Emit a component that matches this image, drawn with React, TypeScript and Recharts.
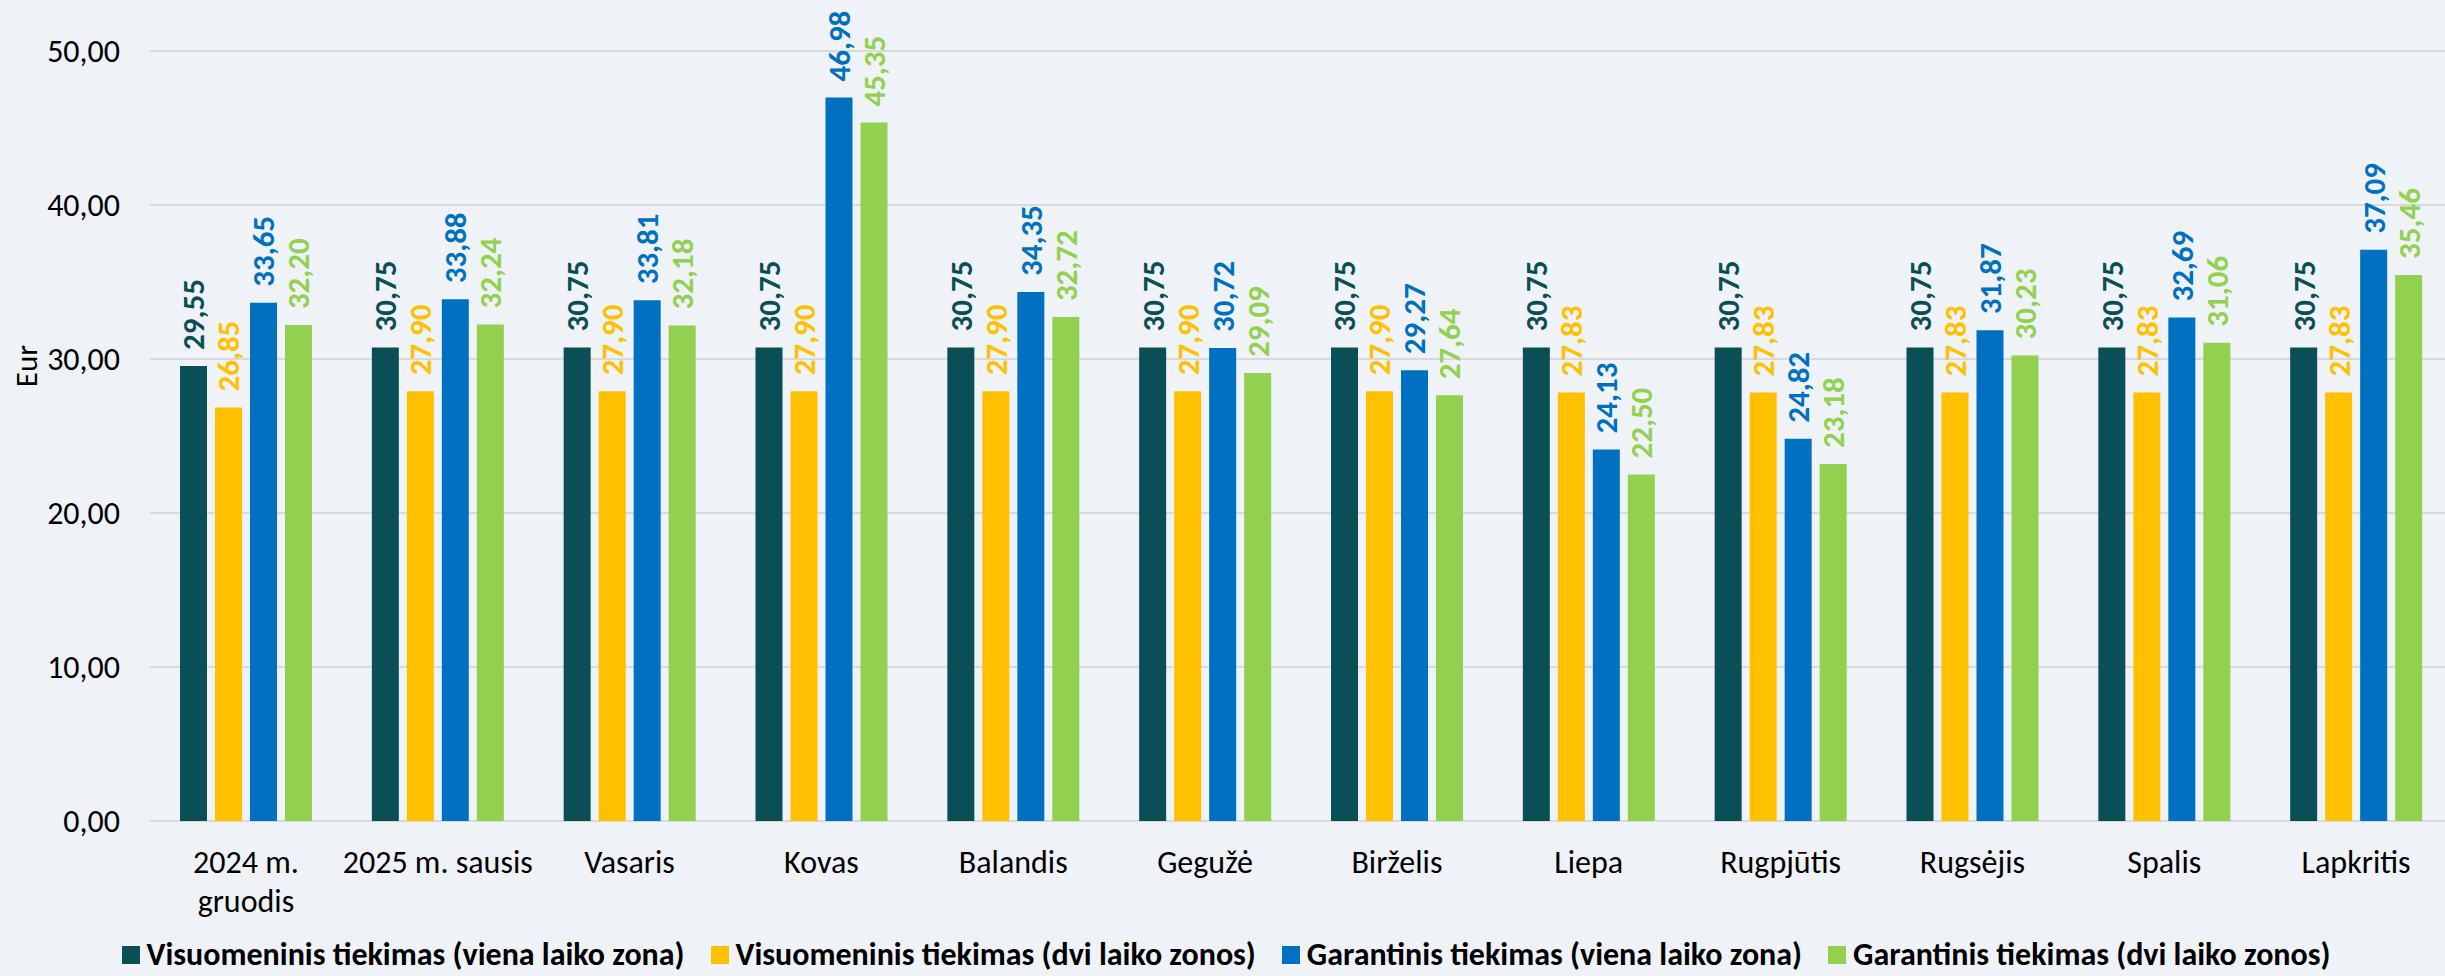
import { BarChart, Bar, XAxis, YAxis, CartesianGrid, Legend, LabelList } from "recharts";

const categories = [
  "2024 m. gruodis",
  "2025 m. sausis",
  "Vasaris",
  "Kovas",
  "Balandis",
  "Gegužė",
  "Birželis",
  "Liepa",
  "Rugpjūtis",
  "Rugsėjis",
  "Spalis",
  "Lapkritis",
];

const visuomeninisViena = [29.55, 30.75, 30.75, 30.75, 30.75, 30.75, 30.75, 30.75, 30.75, 30.75, 30.75, 30.75];
const visuomeninisDvi = [26.85, 27.9, 27.9, 27.9, 27.9, 27.9, 27.9, 27.83, 27.83, 27.83, 27.83, 27.83];
const garantinisViena = [33.65, 33.88, 33.81, 46.98, 34.35, 30.72, 29.27, 24.13, 24.82, 31.87, 32.69, 37.09];
const garantinisDvi = [32.2, 32.24, 32.18, 45.35, 32.72, 29.09, 27.64, 22.5, 23.18, 30.23, 31.06, 35.46];

const yTicks = [0, 10, 20, 30, 40, 50];

const series = [
  { key: "vv", name: "Visuomeninis tiekimas (viena laiko zona)", color: "#0a4f56", values: visuomeninisViena },
  { key: "vd", name: "Visuomeninis tiekimas (dvi laiko zonos)", color: "#ffc000", values: visuomeninisDvi },
  { key: "gv", name: "Garantinis tiekimas (viena laiko zona)", color: "#0070c0", values: garantinisViena },
  { key: "gd", name: "Garantinis tiekimas (dvi laiko zonos)", color: "#92d050", values: garantinisDvi },
];

const data = categories.map((month, i) => {
  const row: Record<string, string | number> = { month };
  series.forEach((s) => (row[s.key] = s.values[i]));
  return row;
});

const FONT = "Carlito, Calibri, Lato, sans-serif";
const fmt = (v: number) => v.toFixed(2).replace(".", ",");

let ctx: CanvasRenderingContext2D | null = null;
function textWidth(s: string, font: string) {
  if (!ctx) ctx = document.createElement("canvas").getContext("2d");
  if (!ctx) return s.length * 14;
  ctx.font = font;
  return ctx.measureText(s).width;
}

// wrap the month label like Excel does when it is wider than the category
function wrapLabel(label: string, max: number) {
  const font = `32px ${FONT}`;
  const lines: string[] = [];
  let cur = "";
  label.split(" ").forEach((w) => {
    const next = cur ? cur + " " + w : w;
    if (cur && textWidth(next, font) > max) {
      lines.push(cur);
      cur = w;
    } else cur = next;
  });
  if (cur) lines.push(cur);
  return lines;
}

function MonthTick(props: any) {
  const { x, y, payload } = props;
  const lines = wrapLabel(payload.value, 196);
  return (
    <text x={x} y={y} textAnchor="middle" fontSize={32} fontFamily={FONT} fill="#000">
      {lines.map((l, i) => (
        <tspan key={i} x={x} y={y + 52 + i * 39}>
          {l}
        </tspan>
      ))}
    </text>
  );
}

function makeLabel(color: string) {
  return (props: any) => {
    const { x, y, width, value } = props;
    const cx = x + width / 2;
    const cy = y - 16;
    return (
      <text
        x={cx}
        y={cy}
        transform={`rotate(-90, ${cx}, ${cy})`}
        textAnchor="start"
        dominantBaseline="central"
        fill={color}
        fontSize={31}
        fontWeight={700}
        fontFamily={FONT}
      >
        {fmt(value)}
      </text>
    );
  };
}

function LegendBox() {
  return (
    <div
      style={{
        display: "flex",
        justifyContent: "center",
        alignItems: "center",
        height: 30,
        lineHeight: "30px",
        fontFamily: FONT,
        fontWeight: 700,
        fontSize: 32,
        color: "#000",
      }}
    >
      {series.map((s, i) => (
        <div
          key={s.key}
          style={{ display: "flex", alignItems: "center", marginRight: i < series.length - 1 ? 26 : 0 }}
        >
          <span style={{ width: 18, height: 18, background: s.color, marginRight: 7 }} />
          <span>{s.name}</span>
        </div>
      ))}
    </div>
  );
}

export default function App() {
  return (
    <div
      style={{
        position: "absolute",
        left: 0,
        top: 0,
        width: 2445,
        height: 976,
        overflow: "hidden",
        background: "#eff3f7",
      }}
    >
      <BarChart
        width={2452}
        height={976}
        data={data}
        margin={{ top: 51, right: 0, bottom: 6, left: 0 }}
        barSize={27}
        barGap={8}
      >
        <CartesianGrid vertical={false} stroke="#d9d9d9" strokeWidth={2} />
        <XAxis
          dataKey="month"
          height={119}
          axisLine={false}
          tickLine={false}
          tickSize={0}
          tickMargin={0}
          interval={0}
          tick={<MonthTick />}
        />
        <YAxis
          width={150}
          domain={[0, 50]}
          ticks={yTicks}
          axisLine={false}
          tickLine={false}
          tickSize={0}
          tickMargin={30}
          tickFormatter={fmt}
          tick={{ fontSize: 32, fontFamily: FONT, fill: "#000" }}
          label={{
            content: () => (
              <text
                x={26}
                y={366}
                transform="rotate(-90, 26, 366)"
                textAnchor="middle"
                dominantBaseline="central"
                fontSize={31}
                fontFamily={FONT}
                fill="#000"
              >
                Eur
              </text>
            ),
          }}
        />
        <Legend verticalAlign="bottom" align="center" content={() => <LegendBox />} />
        {series.map((s) => (
          <Bar key={s.key} dataKey={s.key} name={s.name} fill={s.color} isAnimationActive={false}>
            <LabelList dataKey={s.key} content={makeLabel(s.color)} />
          </Bar>
        ))}
      </BarChart>
    </div>
  );
}
